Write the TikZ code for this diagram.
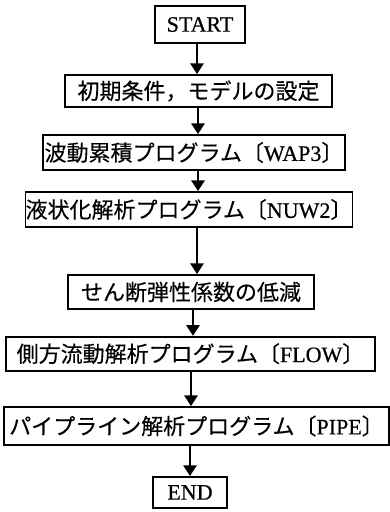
\documentclass[tikz,border=0pt]{standalone}
\usepackage{fontspec}
\setmainfont{Liberation Serif}[FakeBold=0.6]
\newfontfamily\cjk{Noto Sans CJK JP}[FakeBold=0.3]
\usetikzlibrary{arrows.meta}
\begin{document}
\begin{tikzpicture}[x=0.75pt,y=-0.75pt,
  box/.style={draw,line width=1.4pt,inner sep=0pt,font=\fontsize{16.5}{18}\selectfont},
  arr/.style={line width=1.4pt,-{Triangle[length=8pt,width=10pt]}}]
\useasboundingbox (0,0) rectangle (390,512);
\node[box,minimum width=67.5pt,minimum height=27.75pt] (s) at (200,24.5) {START};
\node[box,minimum width=200pt,minimum height=24pt] (n1) at (198.5,91) {\cjk 初期条件，モデルの設定};
\node[box,minimum width=226.5pt,minimum height=26.25pt] (n2) at (194,152.5) {{\cjk 波動累積プログラム〔}WAP3{\cjk 〕}};
\node[box,minimum width=236pt,minimum height=26.25pt] (n3) at (189,209.5) {{\cjk 液状化解析プログラム〔}NUW2{\cjk 〕}};
\node[box,minimum width=185pt,minimum height=25.5pt] (n4) at (191,292) {\cjk せん断弾性係数の低減};
\node[box,minimum width=276.5pt,minimum height=25.5pt] (n5) at (190.5,353.7) {{\cjk 側方流動解析プログラム〔}FLOW{\cjk 〕}};
\node[box,minimum width=289pt,minimum height=28.5pt] (n6) at (196.5,426) {{\cjk パイプライン解析プログラム〔}PIPE{\cjk 〕}};
\node[box,minimum width=55.5pt,minimum height=23.25pt] (e) at (190,492.4) {END};
\coordinate (x1) at (197,0);
\coordinate (x2) at (198,0);
\coordinate (x3) at (198,0);
\coordinate (x4) at (197,0);
\coordinate (x5) at (193,0);
\coordinate (x6) at (191,0);
\coordinate (x7) at (190,0);
\draw[arr] (s.south -| x1) -- (n1.north -| x1);
\draw[arr] (n1.south -| x2) -- (n2.north -| x2);
\draw[arr] (n2.south -| x3) -- (n3.north -| x3);
\draw[arr] (n3.south -| x4) -- (n4.north -| x4);
\draw[arr] (n4.south -| x5) -- (n5.north -| x5);
\draw[arr] (n5.south -| x6) -- (n6.north -| x6);
\draw[arr] (n6.south -| x7) -- (e.north -| x7);
\end{tikzpicture}
\end{document}
